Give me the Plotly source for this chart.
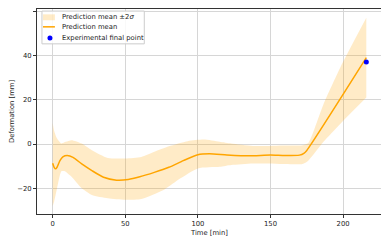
import plotly.graph_objects as go

# ---- data ----
mean_t = [0, 1, 2, 3, 5, 7, 10, 14, 20, 27, 35, 44, 52, 60, 70, 80, 90, 100, 108,
          120, 135, 150, 160, 170, 173, 175, 216]
mean_y = [-8.7, -10.5, -11.2, -10.5, -7.5, -5.8, -5.2, -6.0, -9.0, -12.0, -15.0, -16.3,
          -16.0, -14.8, -12.8, -10.5, -7.5, -4.8, -4.4, -4.9, -5.3, -5.0, -5.2, -5.0,
          -4.2, -2.9, 39.0]

upper_t = [0, 1, 3, 6, 9, 13, 20, 27, 38, 50, 61, 70, 80, 93, 104, 115, 123, 138,
           160, 172, 176, 186.5, 198, 216]
upper_y = [9.5, 6.0, 2.5, 0.3, 1.0, 1.7, 0.2, -2.8, -6.3, -6.5, -5.8, -3.5, -1.0, 1.3,
           2.0, 1.0, 0.2, -0.9, -0.7, -0.5, 0.5, 18.0, 34.5, 57.0]

lower_t = [0, 1, 3, 5, 6, 8, 13, 20, 27, 38, 50, 61, 77, 88, 100, 115, 123, 138,
           160, 172, 176, 186.5, 198, 216]
lower_y = [-28.0, -26.0, -20.0, -14.0, -12.3, -12.2, -14.8, -20.0, -23.0, -24.5, -25.2,
           -24.8, -20.5, -15.5, -11.0, -10.3, -9.5, -8.8, -9.0, -9.0, -7.5, 1.0, 9.1, 21.0]

final_t = [216]
final_y = [37.1]

x_ticks = [0, 50, 100, 150, 200]
y_ticks = [-20, 0, 20, 40, 60]
y_tick_text = ["\u221220", "0", "20", "40", "60"]

legend_labels = ["Prediction mean \u00b12<i>\u03c3</i>", "Prediction mean",
                 "Experimental final point"]

band_color = "rgba(255,165,0,0.22)"
line_color = "#FFA500"
point_color = "#0000FF"
text_color = "#222222"
fs = 6.8

fig = go.Figure()
fig.add_trace(go.Scatter(x=upper_t, y=upper_y, mode="lines",
                         line=dict(width=0, shape="spline", smoothing=0.6),
                         showlegend=False, hoverinfo="skip"))
fig.add_trace(go.Scatter(x=lower_t, y=lower_y, mode="lines", fill="tonexty",
                         fillcolor=band_color,
                         line=dict(width=0, shape="spline", smoothing=0.6),
                         name=legend_labels[0], showlegend=False))
fig.add_trace(go.Scatter(x=mean_t, y=mean_y, mode="lines",
                         line=dict(color=line_color, width=1.5, shape="spline", smoothing=0.6),
                         name=legend_labels[1], showlegend=False))
fig.add_trace(go.Scatter(x=final_t, y=final_y, mode="markers",
                         marker=dict(color=point_color, size=5),
                         name=legend_labels[2], showlegend=False))

axis_common = dict(showline=True, linecolor="#333333", linewidth=1, mirror=True,
                   showgrid=True, gridcolor="#d6d6d6", gridwidth=1,
                   ticks="outside", ticklen=3, tickcolor="#333333", zeroline=False,
                   tickfont=dict(size=fs, color=text_color))

fig.update_xaxes(range=[-10.8, 226.8], tickvals=x_ticks,
                 title=dict(text="Time [min]", font=dict(size=fs, color=text_color), standoff=3),
                 **axis_common)
fig.update_yaxes(range=[-31.6, 61.0], tickvals=y_ticks, ticktext=y_tick_text,
                 title=dict(text="Deformation [mm]", font=dict(size=fs, color=text_color), standoff=5),
                 **axis_common)

# compact matplotlib-style legend (box, swatches, labels) in paper coordinates
shapes = [
    dict(type="rect", xref="paper", yref="paper", x0=0.0144, x1=0.311, y0=0.830, y1=0.990,
         fillcolor="rgba(255,255,255,0.85)", line=dict(color="#cccccc", width=1), layer="above"),
    dict(type="rect", xref="paper", yref="paper", x0=0.0173, x1=0.0519, y0=0.945, y1=0.974,
         fillcolor=band_color, line=dict(width=0), layer="above"),
    dict(type="line", xref="paper", yref="paper", x0=0.0173, x1=0.0519, y0=0.913, y1=0.913,
         line=dict(color=line_color, width=1.5), layer="above"),
    dict(type="circle", xref="paper", yref="paper", xsizemode="pixel", ysizemode="pixel",
         xanchor=0.0375, yanchor=0.859, x0=-2.5, x1=2.5, y0=-2.5, y1=2.5,
         fillcolor=point_color, line=dict(width=0), layer="above"),
]
annotations = [
    dict(xref="paper", yref="paper", x=0.074, y=yy, text=txt, showarrow=False,
         xanchor="left", yanchor="middle", xshift=-2, borderpad=0,
         font=dict(size=fs, color=text_color))
    for yy, txt in zip([0.961, 0.913, 0.859], legend_labels)
]

# page body has an 8px default margin; figure is sized to fit the window after it
fig.update_layout(
    width=381, height=235,
    margin=dict(l=27, r=7, t=0, b=29),
    paper_bgcolor="white", plot_bgcolor="white",
    font=dict(family="DejaVu Sans", size=fs, color=text_color),
    shapes=shapes, annotations=annotations,
    showlegend=False,
)

fig.write_html("out.html")
